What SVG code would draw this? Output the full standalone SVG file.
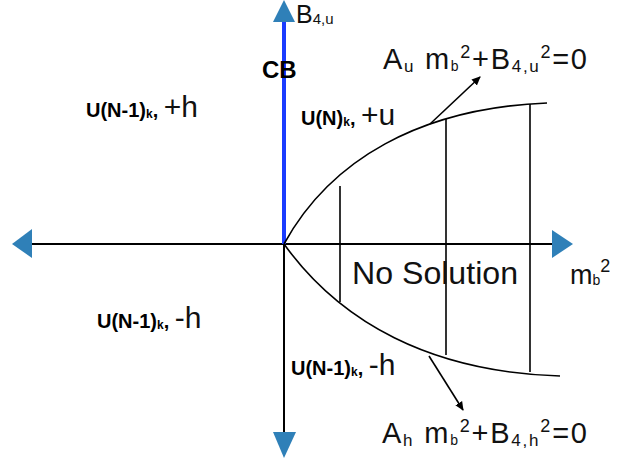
<svg xmlns="http://www.w3.org/2000/svg" width="617" height="464" viewBox="0 0 617 464">
<style>
.ax{stroke:#000;stroke-width:2;fill:none}
.ln{stroke:#000;stroke-width:1.6;fill:none}
.ah{fill:#2f80b8}
.th{font-family:"Liberation Sans",Arial,sans-serif;fill:#111}
.bd{font-family:"Liberation Sans",Arial,sans-serif;font-weight:bold;fill:#000}
</style>
<defs>
<marker id="arr" markerWidth="10" markerHeight="10" refX="8" refY="5" orient="auto" markerUnits="userSpaceOnUse">
<path d="M0,1 L9,5 L0,9 Z" fill="#000"/>
</marker>
</defs>
<rect width="617" height="464" fill="#fff"/>
<g id="connectors">
<line class="ax" x1="30" y1="244" x2="553" y2="244"/>
<line class="ax" x1="284" y1="244" x2="284" y2="433"/>
<line x1="284" y1="244" x2="284" y2="20" stroke="#1a3cff" stroke-width="4"/>
<path class="ln" d="M284,244 C330,160 420,108 547,103"/>
<path class="ln" d="M284,244 C340,322 430,372 560,376"/>
<line class="ln" x1="340" y1="186" x2="340" y2="302"/>
<line class="ln" x1="446" y1="119" x2="446" y2="355"/>
<line class="ln" x1="530" y1="104" x2="530" y2="372"/>
<line class="ln" x1="430" y1="124" x2="480" y2="77" marker-end="url(#arr)"/>
<line class="ln" x1="429" y1="356" x2="463" y2="410" marker-end="url(#arr)"/>
</g>
<g id="arrowheads">
<polygon class="ah" points="284,0 273,22 295,22"/>
<polygon class="ah" points="12,244 32,229 32,258"/>
<polygon class="ah" points="573,244 552,230 552,258"/>
<polygon class="ah" points="284,458 273,432 296,432"/>
</g>
<g id="label-b4u">
<text class="th" x="296" y="23" font-size="25">B<tspan font-size="15" dy="1">4,u</tspan></text>
</g>
<g id="label-cb">
<text class="bd" x="262" y="78" font-size="24">CB</text>
</g>
<g id="label-ul">
<text class="bd" x="86" y="117" font-size="20">U(N-1)<tspan font-size="12" dy="1">k</tspan><tspan dy="-1">, </tspan><tspan class="th" font-weight="normal" font-size="30">+h</tspan></text>
</g>
<g id="label-un">
<text class="bd" x="301" y="125" font-size="20">U(N)<tspan font-size="12" dy="1">k</tspan><tspan dy="-1">, </tspan><tspan class="th" font-weight="normal" font-size="30">+u</tspan></text>
</g>
<g id="eq-u">
<text class="th" x="383" y="69" font-size="29" textLength="204" lengthAdjust="spacing">A<tspan font-size="17" dy="3">u</tspan><tspan dy="-3"> m</tspan><tspan font-size="14" dy="2">b</tspan><tspan font-size="18" dy="-13">2</tspan><tspan dy="11">+B</tspan><tspan font-size="17" dy="3">4,u</tspan><tspan font-size="18" dy="-14">2</tspan><tspan dy="11">=0</tspan></text>
</g>
<g id="no-solution">
<text class="th" x="352" y="284" font-size="31" textLength="166" lengthAdjust="spacingAndGlyphs">No Solution</text>
</g>
<g id="label-mb2">
<text class="th" x="570" y="284" font-size="27">m<tspan font-size="14" dy="1">b</tspan><tspan font-size="18" dy="-13">2</tspan></text>
</g>
<g id="label-ll">
<text class="bd" x="97" y="328" font-size="20">U(N-1)<tspan font-size="12" dy="1">k</tspan><tspan dy="-1">, </tspan><tspan class="th" font-weight="normal" font-size="30">-h</tspan></text>
</g>
<g id="label-lm">
<text class="bd" x="291" y="375" font-size="20">U(N-1)<tspan font-size="12" dy="1">k</tspan><tspan dy="-1">, </tspan><tspan class="th" font-weight="normal" font-size="30">-h</tspan></text>
</g>
<g id="eq-h">
<text class="th" x="382" y="443" font-size="29" textLength="205" lengthAdjust="spacing">A<tspan font-size="17" dy="3">h</tspan><tspan dy="-3"> m</tspan><tspan font-size="14" dy="2">b</tspan><tspan font-size="18" dy="-13">2</tspan><tspan dy="11">+B</tspan><tspan font-size="17" dy="3">4,h</tspan><tspan font-size="18" dy="-14">2</tspan><tspan dy="11">=0</tspan></text>
</g>
</svg>
